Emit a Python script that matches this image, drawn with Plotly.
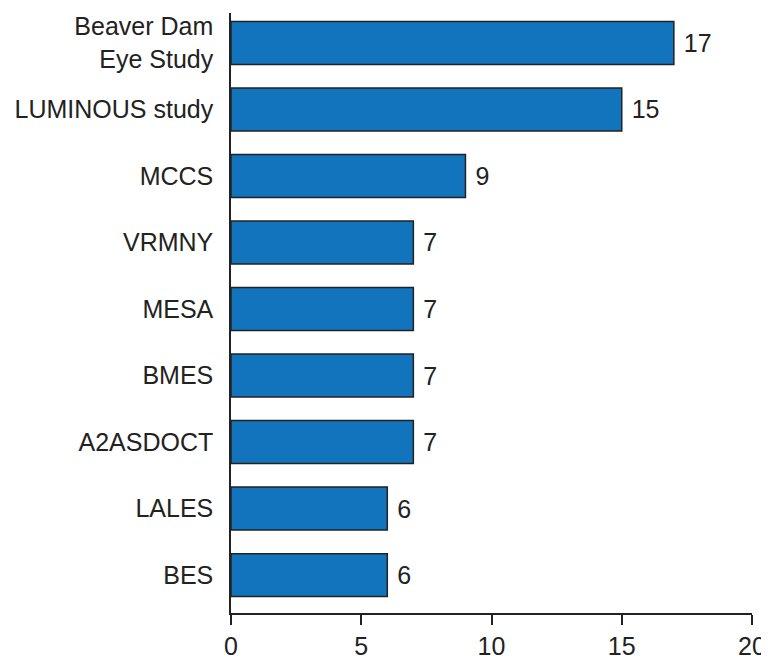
import plotly.graph_objects as go

categories = ["BES", "LALES", "A2ASDOCT", "BMES", "MESA", "VRMNY", "MCCS",
              "LUMINOUS study", "Beaver Dam<br>Eye Study"]
values = [6, 6, 7, 7, 7, 7, 9, 15, 17]
x_ticks = [0, 5, 10, 15, 20]

fig = go.Figure(go.Bar(
    x=values, y=categories, orientation="h",
    marker=dict(color="#1174BD", line=dict(color="#222222", width=1.5)),
    text=[" " + str(v) for v in values], textposition="outside",
    textfont=dict(size=25, color="#222222", family="Liberation Sans, Arial"),
    cliponaxis=False, width=0.645,
))

# page body has an 8px margin, so the figure is sized/offset to compensate
fig.update_layout(
    width=761, height=651,
    margin=dict(l=223, r=17, t=5, b=46, autoexpand=False),
    paper_bgcolor="white", plot_bgcolor="white",
    font=dict(family="Liberation Sans, Arial", size=25, color="#222222"),
    showlegend=False,
)
fig.update_xaxes(
    range=[0, 20], tickvals=x_ticks, showgrid=False, zeroline=False,
    showline=True, linecolor="#222222", linewidth=1.5, automargin=False,
    ticks="outside", ticklen=10, tickwidth=1.5, tickcolor="#222222",
    tickfont=dict(size=25), ticklabelstandoff=0,
)
fig.update_yaxes(
    type="category", range=[-0.57, 8.45], showgrid=False, zeroline=False,
    showline=True, linecolor="#222222", linewidth=1.5, automargin=False,
    ticks="", ticklabelstandoff=11, tickfont=dict(size=25),
)

fig.write_html("out.html")
